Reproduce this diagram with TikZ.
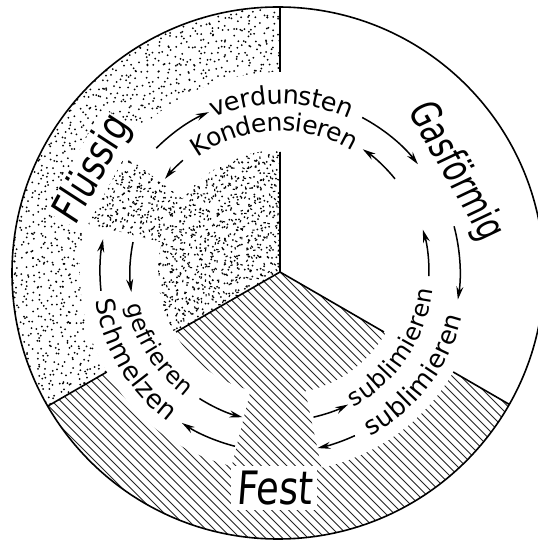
\documentclass[tikz,border=0pt]{standalone}
\usepackage{fontspec}
\usetikzlibrary{arrows.meta,decorations.text}
\newfontfamily\dv{DejaVu Sans}
\newfontfamily\dvfl[FakeStretch=0.8,FakeSlant=0.08]{DejaVu Sans}
\newfontfamily\dvgas[FakeStretch=0.72,FakeSlant=0.08]{DejaVu Sans}
\newcommand\trkfont[1]{\dv\fontsize{#1}{#1}\selectfont}
\tikzset{
  arr/.style={-{Stealth[length=13pt,width=7pt]}, line width=1.5pt},
  bline/.style={line width=1.6pt},
  hatchline/.style={line width=0.9pt, black!85},
  trackpath/.style={decorate, decoration={text along path, text align=center, raise=-6.8pt}},
  biglabel/.style={inner sep=2pt}
}
\begin{document}
\begin{tikzpicture}[x=1pt,y=1pt]
\fill[white] (0,0) rectangle (538,541);
\useasboundingbox (0,0) rectangle (538,541);
\begin{scope}[shift={(280,269)}]
  \begin{scope}
    \clip (-2,-1) circle[radius=266];
    % stipple of the liquid sector
    \begin{scope}
      \clip (0,0) -- (90:400) -- (150:400) -- (210:400) -- cycle;
      \pgfmathsetseed{4711}
      \foreach \gx in {-272,-266,...,2}{
        \foreach \gy in {-142,-136,...,272}{
          \pgfmathsetmacro\px{\gx+7.5*rnd}
          \pgfmathsetmacro\py{\gy+7.5*rnd}
          \fill (\px,\py) circle[radius=1pt];
        }
      }
      \begin{scope}
        \clip (0,0) circle[radius=126] (0,0) -- (143:205) -- (166:205) -- cycle;
        \foreach \gx in {-212,-205,...,2}{
          \foreach \gy in {-112,-105,...,200}{
            \pgfmathsetmacro\px{\gx+8*rnd}
            \pgfmathsetmacro\py{\gy+8*rnd}
            \pgfmathsetmacro\ro{rnd*180}
            \draw[line width=1.1pt] (\px,\py) ++(\ro:1.2) -- ++(\ro+180:2.4);
          }
        }
      \end{scope}
    \end{scope}
    % hatching of the solid sector
    \begin{scope}
      \clip (0,0) -- (210:400) -- (270:400) -- (330:400) -- cycle;
      \foreach \k in {-64,...,32}{
        \draw[hatchline] (\k*8.5+300,-300) -- (\k*8.5-300,300);
      }
    \end{scope}
    % white bands for the transitions
    \fill[white] (166:122) arc[start angle=166,end angle=256,radius=122]
      -- (256:200) arc[start angle=256,end angle=166,radius=200] -- cycle;
    \fill[white] (-78:122) arc[start angle=-78,end angle=143,radius=122]
      -- (143:200) arc[start angle=143,end angle=-78,radius=200] -- cycle;
    % boundary lines
    \foreach \a in {90,210,330}{
      \draw[bline] (0,0) -- (\a:120);
      \draw[bline] (\a:200) -- (\a:300);
    }
  \end{scope}
  \draw[bline] (-2,-1) circle[radius=266];
  % state labels
  \node[biglabel, fill=white, rounded corners=6pt, inner sep=1pt, rotate=61.5] (fl) at (151.5:213) {\dvfl\fontsize{42}{42}\selectfont Flüssig};
  \node[biglabel, rotate=-60] (gas) at (30:202) {\dvgas\fontsize{41}{41}\selectfont Gasförmig};
  \node[biglabel, fill=white, inner sep=5pt] (fest) at (-6,-216) {\dvfl\fontsize{46}{46}\selectfont Fest};
  % transition texts
  \path[trackpath, decoration={text={|\trkfont{25.5}|verdunsten}}] (129.5:175) arc[start angle=129.5,end angle=49.5,radius=175];
  \path[trackpath, decoration={text={|\trkfont{25}|Kondensieren}}] (137.5:148) arc[start angle=137.5,end angle=47.5,radius=148];
  \path[trackpath, decoration={text={|\trkfont{25.8}|Schmelzen}}] (166:180) arc[start angle=166,end angle=256,radius=180];
  \path[trackpath, decoration={text={|\trkfont{23.5}|gefrieren}}] (167.5:150) arc[start angle=167.5,end angle=257.5,radius=150];
  \path[trackpath, decoration={text={|\trkfont{25.5}|sublimieren}}] (-82.5:181) arc[start angle=-82.5,end angle=7.5,radius=181];
  \path[trackpath, decoration={text={|\trkfont{24}|sublimieren}}] (-79:147) arc[start angle=-79,end angle=11,radius=147];
  % arrows
  \draw[arr] (135:175) arc[start angle=135,end angle=114,radius=175];
  \draw[arr] (62:175) arc[start angle=62,end angle=38,radius=175];
  \draw[arr] (39:148) arc[start angle=39,end angle=56,radius=148];
  \draw[arr] (131:148) arc[start angle=131,end angle=141,radius=148];
  \draw[arr] (255.5:180) arc[start angle=255.5,end angle=237,radius=180];
  \draw[arr] (186:180) arc[start angle=186,end angle=169.5,radius=180];
  \draw[arr] (168.5:150) arc[start angle=168.5,end angle=187.7,radius=150];
  \draw[arr] (237.5:150) arc[start angle=237.5,end angle=255.5,radius=150];
  \draw[arr] (14.7:180) arc[start angle=14.7,end angle=-8.8,radius=180];
  \draw[arr] (-65.4:180) arc[start angle=-65.4,end angle=-78,radius=180];
  \draw[arr] (-77:149) arc[start angle=-77,end angle=-62.8,radius=149];
  \draw[arr] (-1.6:149) arc[start angle=-1.6,end angle=16.5,radius=149];
\end{scope}
\end{tikzpicture}
\end{document}
